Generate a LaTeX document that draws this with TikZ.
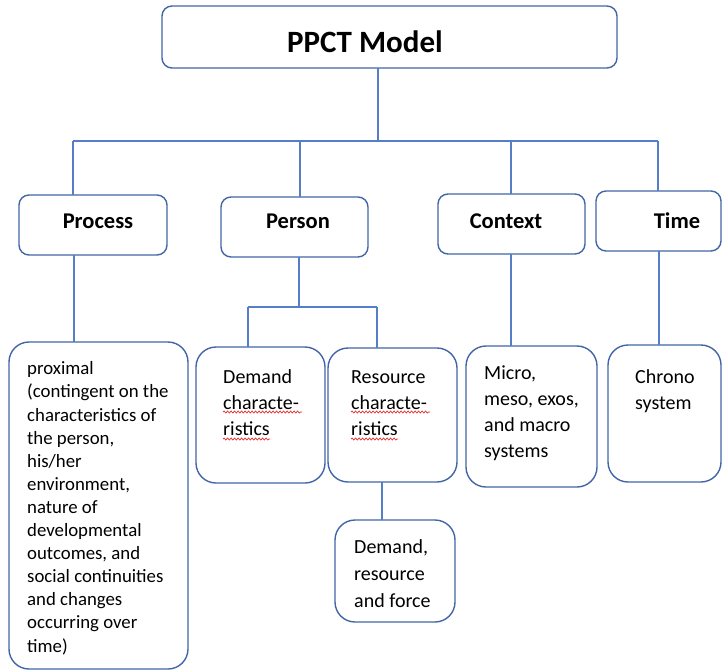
\documentclass[tikz,border=0pt]{standalone}
\usepackage{fontspec}
\setmainfont{Carlito}
\usetikzlibrary{decorations.pathmorphing}
\definecolor{bordercol}{RGB}{66,101,168}
\definecolor{conncol}{RGB}{84,126,200}
\definecolor{spellred}{RGB}{225,45,45}
\begin{document}
\begin{tikzpicture}[x=1pt,y=-1pt,
  box/.style={draw=bordercol, line width=1.4pt, rounded corners=10pt, inner sep=0pt, outer sep=0pt, anchor=north west},
  bigbox/.style={box, rounded corners=20pt},
  conn/.style={draw=conncol, line width=1.4pt},
  head/.style={font=\fontsize{22.5}{27}\selectfont\bfseries, inner sep=0pt, anchor=base},
  body/.style={font=\fontsize{20}{26}\selectfont, align=left, inner sep=0pt, anchor=base west},
  wavy/.style={draw=spellred, line width=0.7pt, decorate, decoration={snake, segment length=3.5pt, amplitude=1pt}}]
\useasboundingbox (0,0) rectangle (722,670);
% boxes
\node[box, minimum width=455pt, minimum height=62pt] (top) at (162,6) {};
\node[box, minimum width=148pt, minimum height=60pt] (process) at (19,195) {};
\node[box, minimum width=147pt, minimum height=60pt] (person) at (221,197) {};
\node[box, minimum width=147pt, minimum height=60pt] (context) at (438,194) {};
\node[box, minimum width=125pt, minimum height=60pt] (time) at (596,191) {};
\node[bigbox, minimum width=179pt, minimum height=327pt] (proximal) at (9,342) {};
\node[bigbox, minimum width=129pt, minimum height=136pt] (demand) at (196,347) {};
\node[bigbox, minimum width=129pt, minimum height=134pt] (resource) at (328,348) {};
\node[bigbox, minimum width=131pt, minimum height=141pt] (micro) at (466,346) {};
\node[bigbox, minimum width=113pt, minimum height=137pt] (chrono) at (608,345) {};
\node[bigbox, minimum width=120pt, minimum height=102pt] (force) at (335,520) {};
% headings
\node[head, font=\fontsize{31}{36}\selectfont\bfseries] (tPPCT) at (365,52) {PPCT Model};
\node[head] (tProcess) at (98,228) {Process};
\node[head] (tPerson) at (298,228) {Person};
\node[head] (tContext) at (506,228) {Context};
\node[head] (tTime) at (677,228) {Time};
% body texts (anchored at the baseline of the last line)
\node[body, font=\fontsize{18.8}{23.1}\selectfont] (tProximal) at (27,652) {proximal\\(contingent on the\\characteristics of\\the person,\\his/her\\environment,\\nature of\\developmental\\outcomes, and\\social continuities\\and changes\\occurring over\\time)};
\node[body] (tDemand) at (223,435) {Demand\\characte-\\ristics};
\node[body] (tResource) at (351,435) {Resource\\characte-\\ristics};
\node[body] (tMicro) at (484,457) {Micro,\\meso, exos,\\and macro\\systems};
\node[body] (tChrono) at (635,409) {Chrono\\system};
\node[body, font=\fontsize{20}{27}\selectfont] (tForce) at (354,607) {Demand,\\resource\\and force};
% connectors
\coordinate (j) at (378,141);
\coordinate (bl) at (73,141);
\coordinate (b2) at (300,141);
\coordinate (b3) at (511,141);
\coordinate (br) at (658,141);
\draw[conn] (top.south -| j) -- (j);
\draw[conn] (bl) -- (br);
\draw[conn] (bl) -- (bl |- process.north);
\draw[conn] (b2) -- (b2 |- person.north);
\draw[conn] (b3) -- (b3 |- context.north);
\draw[conn] (br) -- (br |- time.north);
\coordinate (px) at (74,300);
\draw[conn] (process.south -| px) -- (proximal.north -| px);
\coordinate (pj) at (299,307);
\coordinate (pl) at (248,307);
\coordinate (pr) at (377,307);
\draw[conn] (person.south -| pj) -- (pj);
\draw[conn] (pl) -- (pr);
\draw[conn] (pl) -- (pl |- demand.north);
\draw[conn] (pr) -- (pr |- resource.north);
\coordinate (cx) at (511,300);
\draw[conn] (context.south -| cx) -- (micro.north -| cx);
\coordinate (tx) at (659,300);
\draw[conn] (time.south -| tx) -- (chrono.north -| tx);
\coordinate (rx) at (382,500);
\draw[conn] (resource.south -| rx) -- (force.north -| rx);
% spell-check underlines
\coordinate (u1a) at (223,412); \coordinate (u1b) at (302,412);
\coordinate (u2a) at (223,439); \coordinate (u2b) at (270,439);
\coordinate (u3a) at (351,412); \coordinate (u3b) at (430,412);
\coordinate (u4a) at (351,439); \coordinate (u4b) at (398,439);
\draw[wavy] (u1a) -- (u1b);
\draw[wavy] (u2a) -- (u2b);
\draw[wavy] (u3a) -- (u3b);
\draw[wavy] (u4a) -- (u4b);
\end{tikzpicture}
\end{document}
